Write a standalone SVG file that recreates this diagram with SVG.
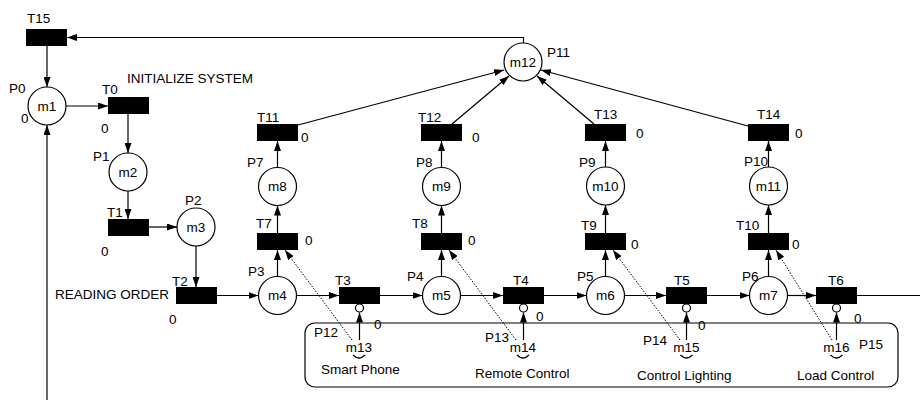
<svg xmlns="http://www.w3.org/2000/svg" width="920" height="400" viewBox="0 0 920 400">
<defs>
<marker id="arr" markerUnits="userSpaceOnUse" markerWidth="10" markerHeight="7" refX="10" refY="3.5" orient="auto">
<path d="M0,0 L10,3.5 L0,7 z" fill="#000"/>
</marker>
</defs>
<style>
text{font-family:"Liberation Sans",Arial,sans-serif;font-size:13.5px;fill:#000}
.m{text-anchor:middle}
.t{fill:#000;stroke:none}
.p{fill:#fff;stroke:#000;stroke-width:1.2}
.c{fill:none;stroke:#000;stroke-width:1.2}
.a{marker-end:url(#arr)}
.d{fill:none;stroke:#000;stroke-width:1;stroke-dasharray:1.5,1.5;marker-end:url(#arr)}
.inh{fill:#fff;stroke:#000;stroke-width:1.2}
</style>
<rect width="920" height="400" fill="#fff"/>

<g id="box">
<rect x="305" y="323" width="593" height="64" rx="10" class="c"/>
</g>

<g id="connectors">
<polyline points="523.5,43 523.5,37.5 67,37.5" class="c a"/>
<line x1="47" y1="46" x2="47" y2="87" class="c a"/>
<line x1="47" y1="400" x2="47" y2="125" class="c a" style="stroke:#444;stroke-width:1.6"/>
<line x1="66" y1="106" x2="108" y2="106" class="c a"/>
<line x1="128" y1="114" x2="128" y2="153" class="c a"/>
<line x1="128" y1="191" x2="128" y2="219" class="c a"/>
<line x1="149" y1="227" x2="177" y2="227" class="c a"/>
<line x1="196" y1="246" x2="196" y2="287" class="c a"/>
<line x1="217" y1="295.5" x2="258.5" y2="295.5" class="c a"/>
<line x1="296.5" y1="295.5" x2="339" y2="295.5" class="c a"/>
<line x1="380" y1="295.5" x2="422.5" y2="295.5" class="c a"/>
<line x1="460.5" y1="295.5" x2="503" y2="295.5" class="c a"/>
<line x1="544" y1="295.5" x2="586.5" y2="295.5" class="c a"/>
<line x1="624.5" y1="295.5" x2="666" y2="295.5" class="c a"/>
<line x1="707" y1="295.5" x2="749.5" y2="295.5" class="c a"/>
<line x1="787.5" y1="295.5" x2="816" y2="295.5" class="c a"/>
<line x1="857" y1="295.5" x2="920" y2="295.5" class="c"/>

<line x1="277.5" y1="276.5" x2="277.5" y2="250" class="c a"/>
<line x1="277.5" y1="233" x2="277.5" y2="205.5" class="c a"/>
<line x1="277.5" y1="167.5" x2="277.5" y2="141" class="c a"/>
<line x1="441.5" y1="276.5" x2="441.5" y2="250" class="c a"/>
<line x1="441.5" y1="233" x2="441.5" y2="205.5" class="c a"/>
<line x1="441.5" y1="167.5" x2="441.5" y2="141" class="c a"/>
<line x1="605.5" y1="276.5" x2="605.5" y2="250" class="c a"/>
<line x1="605.5" y1="233" x2="605.5" y2="205" class="c a"/>
<line x1="605.5" y1="167" x2="605.5" y2="141" class="c a"/>
<line x1="768.5" y1="276.5" x2="768.5" y2="250" class="c a"/>
<line x1="768.5" y1="233" x2="768.5" y2="205" class="c a"/>
<line x1="768.5" y1="167" x2="768.5" y2="141" class="c a"/>

<line x1="298" y1="125" x2="504" y2="70" class="c a"/>
<line x1="452" y1="124" x2="509" y2="76" class="c a"/>
<line x1="594" y1="124" x2="537" y2="76" class="c a"/>
<line x1="748" y1="126" x2="541" y2="70" class="c a"/>

<line x1="359.5" y1="340" x2="359.5" y2="312.5" class="c a"/>
<line x1="523.5" y1="340" x2="523.5" y2="312.5" class="c a"/>
<line x1="686.5" y1="340" x2="686.5" y2="312.5" class="c a"/>
<line x1="836.5" y1="340" x2="836.5" y2="312.5" class="c a"/>
<circle cx="359.5" cy="308" r="4" class="inh"/>
<circle cx="523.5" cy="308" r="4" class="inh"/>
<circle cx="686.5" cy="308" r="4" class="inh"/>
<circle cx="836.5" cy="308" r="4" class="inh"/>

<line x1="352" y1="340" x2="285" y2="250" class="d"/>
<line x1="516" y1="340" x2="449" y2="250" class="d"/>
<line x1="680" y1="340" x2="613" y2="250" class="d"/>
<line x1="832" y1="340" x2="776" y2="250" class="d"/>
</g>

<g id="T15"><rect x="26" y="29" width="41" height="17" class="t"/><text x="27" y="22.5">T15</text></g>
<g id="P0"><circle cx="47" cy="106" r="19" class="p"/><text x="47" y="110.5" class="m">m1</text><text x="9" y="93">P0</text><text x="21" y="123">0</text></g>
<g id="T0"><rect x="108" y="97" width="41" height="17" class="t"/><text x="102" y="94">T0</text><text x="101" y="133">0</text><text x="127" y="83">INITIALIZE SYSTEM</text></g>
<g id="P1"><circle cx="128" cy="172" r="19" class="p"/><text x="128" y="176.5" class="m">m2</text><text x="93" y="161">P1</text></g>
<g id="T1"><rect x="108" y="219" width="41" height="17" class="t"/><text x="107" y="216.5">T1</text><text x="101" y="256">0</text></g>
<g id="P2"><circle cx="196" cy="227" r="19" class="p"/><text x="196" y="231.5" class="m">m3</text><text x="185" y="205">P2</text></g>
<g id="T2"><rect x="176" y="287" width="41" height="17" class="t"/><text x="172" y="286">T2</text><text x="169" y="324">0</text><text x="55" y="299">READING ORDER</text></g>
<g id="P3"><circle cx="277.5" cy="295.5" r="19" class="p"/><text x="277.5" y="300" class="m">m4</text><text x="248" y="276">P3</text></g>
<g id="T3"><rect x="339" y="287" width="41" height="17" class="t"/><text x="335" y="285">T3</text><text x="374" y="329">0</text></g>
<g id="P4"><circle cx="441.5" cy="295.5" r="19" class="p"/><text x="441.5" y="300" class="m">m5</text><text x="407" y="281">P4</text></g>
<g id="T4"><rect x="503" y="287" width="41" height="17" class="t"/><text x="513" y="285">T4</text><text x="536" y="321">0</text></g>
<g id="P5"><circle cx="605.5" cy="295.5" r="19" class="p"/><text x="605.5" y="300" class="m">m6</text><text x="577" y="281">P5</text></g>
<g id="T5"><rect x="666" y="287" width="41" height="17" class="t"/><text x="674" y="285">T5</text><text x="698" y="330">0</text></g>
<g id="P6"><circle cx="768.5" cy="295.5" r="19" class="p"/><text x="768.5" y="300" class="m">m7</text><text x="742" y="281">P6</text></g>
<g id="T6"><rect x="816" y="287" width="41" height="17" class="t"/><text x="828" y="285">T6</text><text x="854" y="323">0</text></g>

<g id="T7"><rect x="257" y="233" width="41" height="17" class="t"/><text x="256" y="228">T7</text><text x="305" y="245">0</text></g>
<g id="T8"><rect x="421" y="233" width="41" height="17" class="t"/><text x="412" y="227.5">T8</text><text x="468" y="245">0</text></g>
<g id="T9"><rect x="585" y="233" width="41" height="17" class="t"/><text x="581" y="230">T9</text><text x="631" y="249">0</text></g>
<g id="T10"><rect x="748" y="233" width="41" height="17" class="t"/><text x="736" y="230">T10</text><text x="792" y="249">0</text></g>

<g id="P7"><circle cx="277.5" cy="186.5" r="19" class="p"/><text x="277.5" y="191" class="m">m8</text><text x="247" y="167">P7</text></g>
<g id="P8"><circle cx="441.5" cy="186.5" r="19" class="p"/><text x="441.5" y="191" class="m">m9</text><text x="416" y="167">P8</text></g>
<g id="P9"><circle cx="605.5" cy="186" r="19" class="p"/><text x="605.5" y="190.5" class="m">m10</text><text x="579" y="167">P9</text></g>
<g id="P10"><circle cx="768.5" cy="186" r="19" class="p"/><text x="768.5" y="190.5" class="m">m11</text><text x="744" y="166">P10</text></g>

<g id="T11"><rect x="257" y="124" width="41" height="17" class="t"/><text x="257" y="122">T11</text><text x="301" y="142">0</text></g>
<g id="T12"><rect x="421" y="124" width="41" height="17" class="t"/><text x="418" y="122">T12</text><text x="472" y="142">0</text></g>
<g id="T13"><rect x="585" y="124" width="41" height="17" class="t"/><text x="594" y="119">T13</text><text x="636" y="138">0</text></g>
<g id="T14"><rect x="748" y="124" width="41" height="17" class="t"/><text x="757" y="119">T14</text><text x="795" y="138">0</text></g>

<g id="P11"><circle cx="523" cy="62" r="19" class="p"/><text x="523" y="66.5" class="m">m12</text><text x="547" y="57">P11</text></g>

<g id="P12"><text x="314" y="337">P12</text><text x="359" y="352" class="m">m13</text><path d="M353,355 Q359,361 365,355" class="c"/><text x="321" y="374">Smart Phone</text></g>
<g id="P13"><text x="485" y="342">P13</text><text x="523" y="352" class="m">m14</text><path d="M517,355 Q523,361 529,355" class="c"/><text x="475" y="378">Remote Control</text></g>
<g id="P14"><text x="643" y="345">P14</text><text x="686.5" y="352" class="m">m15</text><path d="M680.5,355 Q686.5,361 692.5,355" class="c"/><text x="637" y="380">Control Lighting</text></g>
<g id="P15"><text x="859" y="349">P15</text><text x="836.5" y="352" class="m">m16</text><path d="M830.5,355 Q836.5,361 842.5,355" class="c"/><text x="797" y="380">Load Control</text></g>
</svg>
